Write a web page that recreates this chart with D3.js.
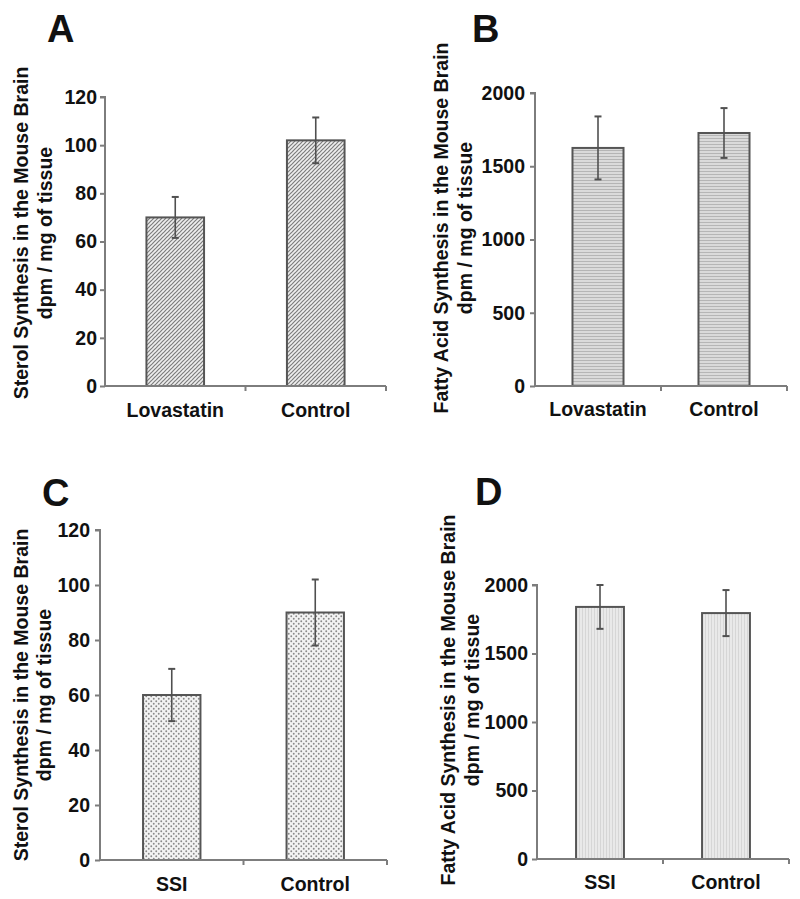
<!DOCTYPE html>
<html>
<head>
<meta charset="utf-8">
<script src="https://cdn.jsdelivr.net/npm/d3@7/dist/d3.min.js"></script>
<style>
  html, body { margin: 0; padding: 0; background: #fff; }
  svg { display: block; }
  text { font-family: "Liberation Sans", Arial, sans-serif; font-weight: bold; fill: #111; }
</style>
</head>
<body>
<svg id="chart" width="800" height="899"></svg>
<script>
// ---------- DATA ----------
const categoriesLov = ["Lovastatin", "Control"];
const categoriesSSI = ["SSI", "Control"];

const sterolLovValues = [70, 102];
const sterolLovErrors = [8.5, 9.5];

const fattyLovValues = [1625, 1727];
const fattyLovErrors = [215, 170];

const sterolSSIValues = [60, 90];
const sterolSSIErrors = [9.5, 12];

const fattySSIValues = [1840, 1795];
const fattySSIErrors = [160, 168];

const sterolTicks = [0, 20, 40, 60, 80, 100, 120];
const fattyTicks = [0, 500, 1000, 1500, 2000];

const sterolTitle = ["Sterol Synthesis in the Mouse Brain", "dpm / mg of tissue"];
const fattyTitle = ["Fatty Acid Synthesis in the Mouse Brain", "dpm / mg of tissue"];

const panelLetters = ["A", "B", "C", "D"];

// ---------- LAYOUT ----------
const svg = d3.select("#chart");
const defs = svg.append("defs");

// patterns
const pA = defs.append("pattern").attr("id", "patA").attr("patternUnits", "userSpaceOnUse")
  .attr("width", 4).attr("height", 4);
pA.append("rect").attr("width", 4).attr("height", 4).attr("fill", "#ececec");
pA.append("path").attr("d", "M-1,1 l2,-2 M0,4 l4,-4 M3,5 l2,-2")
  .attr("stroke", "#7c7c7c").attr("stroke-width", 1.2);
pA.append("rect").attr("x", 2.6).attr("y", 2.6).attr("width", 0.9).attr("height", 0.9).attr("fill", "#fff");

const pB = defs.append("pattern").attr("id", "patB").attr("patternUnits", "userSpaceOnUse")
  .attr("width", 4).attr("height", 3);
pB.append("rect").attr("width", 4).attr("height", 3).attr("fill", "#dadada");
pB.append("rect").attr("width", 4).attr("height", 1).attr("fill", "#b5b5b5");

const pC = defs.append("pattern").attr("id", "patC").attr("patternUnits", "userSpaceOnUse")
  .attr("width", 5).attr("height", 5);
pC.append("rect").attr("width", 5).attr("height", 5).attr("fill", "#f3f3f3");
pC.append("circle").attr("cx", 1.25).attr("cy", 1.25).attr("r", 0.95).attr("fill", "#8a8a8a");
pC.append("circle").attr("cx", 3.75).attr("cy", 3.75).attr("r", 0.95).attr("fill", "#8a8a8a");

const pD = defs.append("pattern").attr("id", "patD").attr("patternUnits", "userSpaceOnUse")
  .attr("width", 3).attr("height", 3);
pD.append("rect").attr("width", 3).attr("height", 3).attr("fill", "#e9e9e9");
pD.append("rect").attr("width", 1).attr("height", 3).attr("fill", "#d6d6d6");

const panels = [
  { letter: panelLetters[0], lx: 47, ly: 42, cats: categoriesLov, vals: sterolLovValues, errs: sterolLovErrors,
    ticks: sterolTicks, domain: [0, 120], title: sterolTitle,
    x0: 105, x1: 386, y0: 386, y1: 97, pad: 0.59, fill: "url(#patA)",
    t1x: 28, t2x: 52, tcy: 233, labelY: 418, tickOff: 8 },
  { letter: panelLetters[1], lx: 472, ly: 42, cats: categoriesLov, vals: fattyLovValues, errs: fattyLovErrors,
    ticks: fattyTicks, domain: [0, 2000], title: fattyTitle,
    x0: 535, x1: 787, y0: 386, y1: 93, pad: 0.595, fill: "url(#patB)",
    t1x: 448, t2x: 472, tcy: 228, labelY: 417, tickOff: 10 },
  { letter: panelLetters[2], lx: 42, ly: 506, cats: categoriesSSI, vals: sterolSSIValues, errs: sterolSSIErrors,
    ticks: sterolTicks, domain: [0, 120], title: sterolTitle,
    x0: 100, x1: 387, y0: 860, y1: 530, pad: 0.6, fill: "url(#patC)",
    t1x: 28, t2x: 51, tcy: 695, labelY: 892, tickOff: 10 },
  { letter: panelLetters[3], lx: 475, ly: 505, cats: categoriesSSI, vals: fattySSIValues, errs: fattySSIErrors,
    ticks: fattyTicks, domain: [0, 2000], title: fattyTitle,
    x0: 537, x1: 789, y0: 859, y1: 585, pad: 0.62, fill: "url(#patD)",
    t1x: 455, t2x: 479, tcy: 700, labelY: 890, tickOff: 9 }
];

const axisColor = "#7d7d7d";
const barStroke = "#555";
const errColor = "#505050";

panels.forEach(p => {
  const g = svg.append("g");
  const x = d3.scaleBand().domain(p.cats).range([p.x0, p.x1])
    .paddingInner(p.pad).paddingOuter(p.pad / 2);
  const y = d3.scaleLinear().domain(p.domain).range([p.y0, p.y1]);

  // panel letter
  g.append("text").attr("x", p.lx).attr("y", p.ly).attr("font-size", 38).text(p.letter);

  // y-axis title
  p.title.forEach((line, i) => {
    const tx = i === 0 ? p.t1x : p.t2x;
    g.append("text")
      .attr("transform", `translate(${tx},${p.tcy}) rotate(-90)`)
      .attr("text-anchor", "middle")
      .attr("font-size", 19.5)
      .text(line);
  });

  // bars
  g.selectAll(".bar").data(p.cats).enter().append("rect")
    .attr("x", d => x(d))
    .attr("y", (d, i) => y(p.vals[i]))
    .attr("width", x.bandwidth())
    .attr("height", (d, i) => y(0) - y(p.vals[i]))
    .attr("fill", p.fill)
    .attr("stroke", barStroke)
    .attr("stroke-width", 2);

  // error bars
  p.cats.forEach((c, i) => {
    const cx = x(c) + x.bandwidth() / 2;
    const top = y(p.vals[i] + p.errs[i]);
    const bot = y(p.vals[i] - p.errs[i]);
    g.append("line").attr("x1", cx).attr("x2", cx).attr("y1", top).attr("y2", bot)
      .attr("stroke", errColor).attr("stroke-width", 1.6);
    [top, bot].forEach(yy => {
      g.append("line").attr("x1", cx - 3.5).attr("x2", cx + 3.5).attr("y1", yy).attr("y2", yy)
        .attr("stroke", errColor).attr("stroke-width", 2);
    });
  });

  // y axis
  const yAxis = d3.axisLeft(y).tickValues(p.ticks).tickSize(5).tickPadding(p.tickOff - 5)
    .tickFormat(d3.format("d"));
  const ya = g.append("g").attr("transform", `translate(${p.x0},0)`).call(yAxis);
  ya.select(".domain").attr("stroke", axisColor).attr("stroke-width", 2)
    .attr("d", `M-5,${p.y1}H0V${p.y0}`);
  ya.selectAll(".tick line").attr("stroke", axisColor).attr("stroke-width", 2);
  ya.selectAll(".tick text").attr("font-size", 19.5).attr("fill", "#111")
    .attr("font-family", "'Liberation Sans', Arial, sans-serif").attr("font-weight", "bold");

  // x axis (line with tick marks at category boundaries)
  const xa = g.append("g").attr("transform", `translate(0,${p.y0})`)
    .call(d3.axisBottom(x).tickSize(0).tickPadding(p.labelY - p.y0 - 15));
  xa.select(".domain").attr("stroke", axisColor).attr("stroke-width", 2)
    .attr("d", `M${p.x0},0H${p.x1}`);
  xa.selectAll(".tick text").attr("font-size", 19.5).attr("fill", "#111")
    .attr("font-family", "'Liberation Sans', Arial, sans-serif").attr("font-weight", "bold");
  const bounds = d3.range(1, p.cats.length + 1).map(k => p.x0 + k * (p.x1 - p.x0) / p.cats.length);
  xa.selectAll(".bound").data(bounds).enter().append("line")
    .attr("x1", d => d).attr("x2", d => d).attr("y1", 0).attr("y2", 5)
    .attr("stroke", axisColor).attr("stroke-width", 2);
});
</script>
</body>
</html>
